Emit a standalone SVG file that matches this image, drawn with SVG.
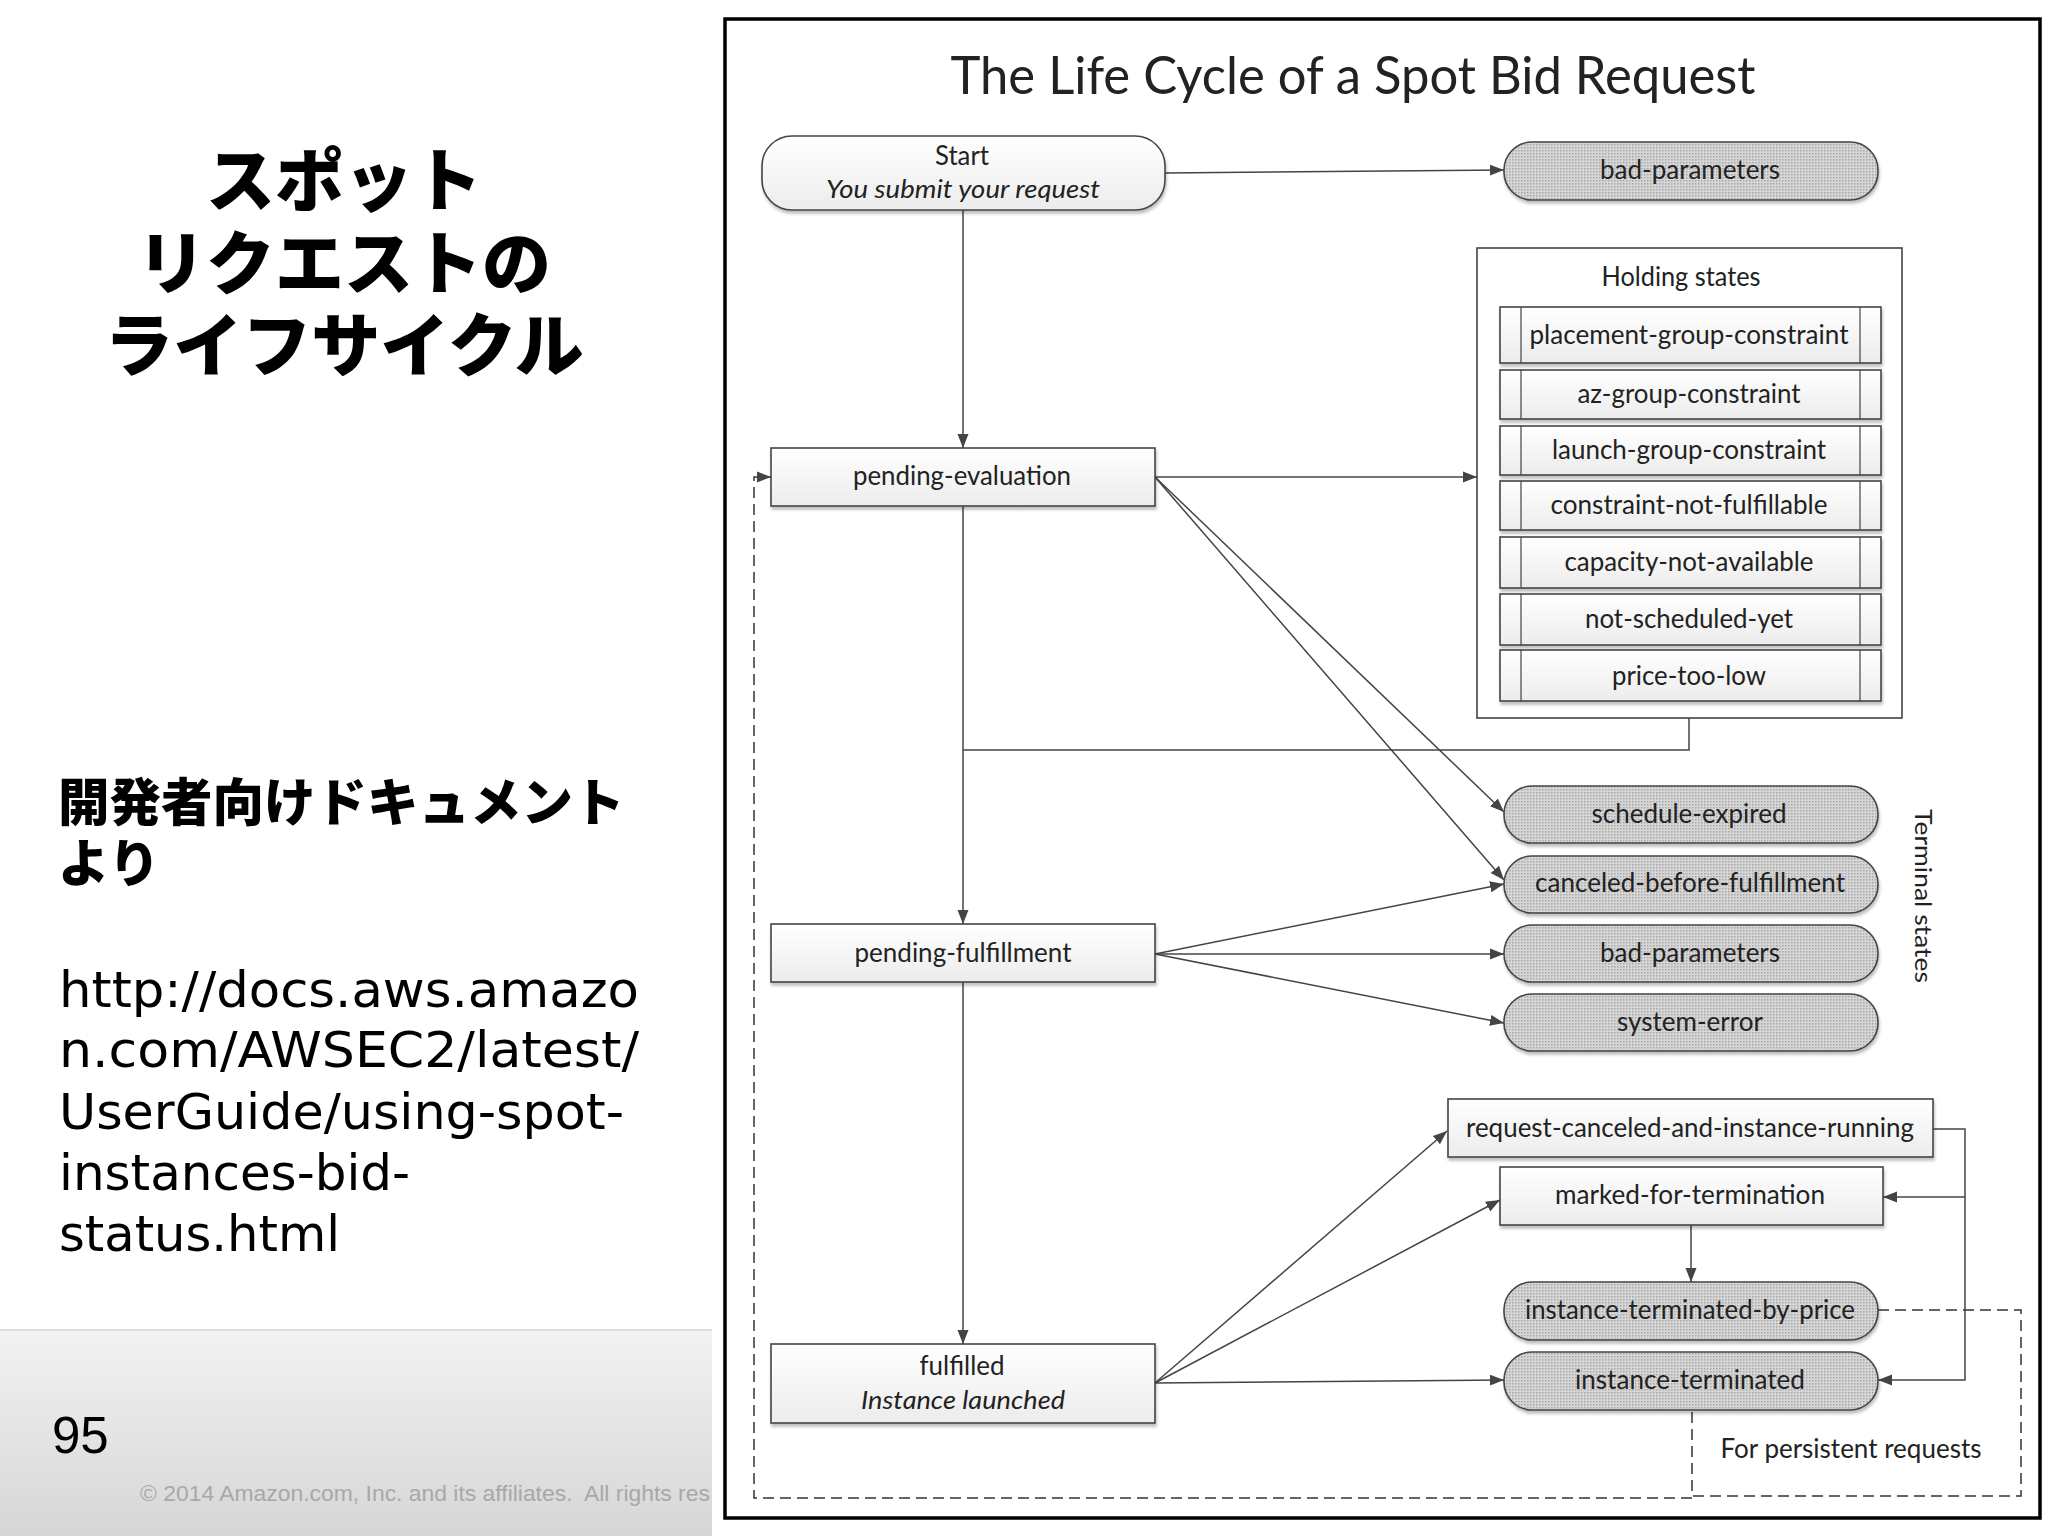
<svg xmlns="http://www.w3.org/2000/svg" width="2048" height="1536" viewBox="0 0 2048 1536">
<style>
.t{font-family:"Lato","Liberation Sans",sans-serif;font-size:26px;fill:#222;text-anchor:middle}
.i{font-style:italic}
.b{fill:url(#boxfill);stroke:#444;stroke-width:1.6;filter:url(#sh)}
.p{fill:url(#dots);stroke:#444;stroke-width:1.6;filter:url(#sh)}
.row{fill:url(#boxfill);stroke:#444;stroke-width:1.6;filter:url(#sh)}
.sl{stroke:#444;stroke-width:1.2;fill:none}
.c{stroke:#444;stroke-width:1.5;fill:none}
.a{marker-end:url(#ah)}
.d{stroke:#333;stroke-width:1.5;fill:none;stroke-dasharray:11 6}
.jp{font-family:"Noto Sans CJK JP",sans-serif;font-weight:900;fill:#000}
.url{font-family:"DejaVu Sans",sans-serif;font-size:50.5px;fill:#000}
</style>
<defs>
<linearGradient id="boxfill" x1="0" y1="0" x2="0" y2="1"><stop offset="0" stop-color="#fff"/><stop offset="1" stop-color="#ececec"/></linearGradient>
<linearGradient id="foot" x1="0" y1="0" x2="0" y2="1"><stop offset="0" stop-color="#f2f2f2"/><stop offset="1" stop-color="#d6d6d6"/></linearGradient>
<pattern id="dots" width="3" height="3" patternUnits="userSpaceOnUse"><rect width="3" height="3" fill="#d6d6d6"/><rect width="1.5" height="1.5" fill="#a8a8a8"/></pattern>
<filter id="sh" x="-5%" y="-10%" width="110%" height="125%"><feDropShadow dx="1" dy="3" stdDeviation="1.5" flood-color="#000" flood-opacity="0.25"/></filter>
<marker id="ah" markerUnits="userSpaceOnUse" markerWidth="15" markerHeight="13" refX="14" refY="6.5" orient="auto"><path d="M0 1 L14 6.5 L0 12 Z" fill="#444"/></marker>
<clipPath id="fc"><rect x="0" y="1329" width="712" height="207"/></clipPath>
</defs>
<rect width="2048" height="1536" fill="#fff"/>

<g id="slide-title">
<text class="jp" x="344" y="206" font-size="69" text-anchor="middle">スポット</text>
<text class="jp" x="344" y="289" font-size="69" text-anchor="middle">リクエストの</text>
<text class="jp" x="344" y="371" font-size="69" text-anchor="middle">ライフサイクル</text>
</g>
<g id="slide-body">
<text class="jp" x="58" y="821" font-size="51.5">開発者向けドキュメント</text>
<text class="jp" x="58" y="882" font-size="51.5">より</text>
<text class="url" x="59" y="1007" textLength="580" lengthAdjust="spacingAndGlyphs">http://docs.aws.amazo</text>
<text class="url" x="59" y="1067" textLength="580" lengthAdjust="spacingAndGlyphs">n.com/AWSEC2/latest/</text>
<text class="url" x="59" y="1129" textLength="565" lengthAdjust="spacingAndGlyphs">UserGuide/using-spot-</text>
<text class="url" x="59" y="1190" textLength="351" lengthAdjust="spacingAndGlyphs">instances-bid-</text>
<text class="url" x="59" y="1251" textLength="281" lengthAdjust="spacingAndGlyphs">status.html</text>
</g>
<g id="footer">
<rect x="0" y="1330" width="712" height="206" fill="url(#foot)"/>
<line x1="0" y1="1330" x2="712" y2="1330" stroke="#ddd" stroke-width="2"/>
<text x="52" y="1453" font-family="Liberation Sans, sans-serif" font-size="51" fill="#000">95</text>
<g clip-path="url(#fc)"><text x="140" y="1501" font-family="Liberation Sans, sans-serif" font-size="22.9" fill="#a8a8a8" xml:space="preserve">© 2014 Amazon.com, Inc. and its affiliates.  All rights res</text></g>
</g>

<rect id="frame" x="725" y="19" width="1315" height="1499" fill="#fff" stroke="#000" stroke-width="3.5"/>
<text id="title" class="t" x="1353" y="94" style="font-size:52px" textLength="805" lengthAdjust="spacingAndGlyphs">The Life Cycle of a Spot Bid Request</text>

<g id="connectors">
<path class="c a" d="M963 210V448"/>
<path class="c a" d="M1165 173L1504 170"/>
<path class="c a" d="M1155 477H1477"/>
<path class="c a" d="M963 506V924"/>
<path class="c" d="M1689 702V750H963"/>
<path class="c a" d="M1155 477L1504 812"/>
<path class="c a" d="M1155 477L1504 880"/>
<path class="c a" d="M1155 954L1504 884"/>
<path class="c a" d="M1155 954H1504"/>
<path class="c a" d="M1155 954L1504 1023"/>
<path class="c a" d="M963 982V1344"/>
<path class="c a" d="M1155 1383L1447 1131"/>
<path class="c a" d="M1155 1383L1500 1200"/>
<path class="c a" d="M1155 1383L1504 1380"/>
<path class="c a" d="M1933 1129H1965V1380H1878"/>
<path class="c a" d="M1965 1197H1883"/>
<path class="c a" d="M1691 1225V1282"/>
<path class="d" d="M1878 1310H2021V1496H1692V1410"/>
<path class="d a" d="M1692 1498H754V477H771"/>
</g>

<g id="start"><rect class="b" x="762" y="136" width="403" height="74" rx="30" ry="30"/><text class="t" x="962" y="165" textLength="54" lengthAdjust="spacingAndGlyphs">Start</text><text class="t i" x="963" y="198" textLength="274" lengthAdjust="spacingAndGlyphs">You submit your request</text></g>
<g id="bad-parameters-1"><rect class="p" x="1504" y="142" width="374" height="58" rx="28"/><text class="t" x="1690" y="179" textLength="180" lengthAdjust="spacingAndGlyphs">bad-parameters</text></g>

<g id="holding-states">
<rect x="1477" y="248" width="425" height="470" fill="#fff" stroke="#444" stroke-width="1.6"/>
<text class="t" x="1681" y="286" textLength="159" lengthAdjust="spacingAndGlyphs">Holding states</text>
</g>
<g id="placement-group-constraint"><rect class="row" x="1500" y="307" width="381" height="56"/><path class="sl" d="M1521 307V363M1860 307V363"/><text class="t" x="1689" y="344" textLength="319" lengthAdjust="spacingAndGlyphs">placement-group-constraint</text></g>
<g id="az-group-constraint"><rect class="row" x="1500" y="370" width="381" height="49"/><path class="sl" d="M1521 370V419M1860 370V419"/><text class="t" x="1689" y="403" textLength="223" lengthAdjust="spacingAndGlyphs">az-group-constraint</text></g>
<g id="launch-group-constraint"><rect class="row" x="1500" y="426" width="381" height="49"/><path class="sl" d="M1521 426V475M1860 426V475"/><text class="t" x="1689" y="459" textLength="274" lengthAdjust="spacingAndGlyphs">launch-group-constraint</text></g>
<g id="constraint-not-fulfillable"><rect class="row" x="1500" y="481" width="381" height="49"/><path class="sl" d="M1521 481V530M1860 481V530"/><text class="t" x="1689" y="514" textLength="277" lengthAdjust="spacingAndGlyphs">constraint-not-fulfillable</text></g>
<g id="capacity-not-available"><rect class="row" x="1500" y="537" width="381" height="51"/><path class="sl" d="M1521 537V588M1860 537V588"/><text class="t" x="1689" y="571" textLength="249" lengthAdjust="spacingAndGlyphs">capacity-not-available</text></g>
<g id="not-scheduled-yet"><rect class="row" x="1500" y="594" width="381" height="51"/><path class="sl" d="M1521 594V645M1860 594V645"/><text class="t" x="1689" y="628" textLength="208" lengthAdjust="spacingAndGlyphs">not-scheduled-yet</text></g>
<g id="price-too-low"><rect class="row" x="1500" y="650" width="381" height="51"/><path class="sl" d="M1521 650V701M1860 650V701"/><text class="t" x="1689" y="685" textLength="154" lengthAdjust="spacingAndGlyphs">price-too-low</text></g>

<g id="pending-evaluation"><rect class="b" x="771" y="448" width="384" height="58"/><text class="t" x="962" y="485" textLength="218" lengthAdjust="spacingAndGlyphs">pending-evaluation</text></g>
<g id="pending-fulfillment"><rect class="b" x="771" y="924" width="384" height="58"/><text class="t" x="963" y="962" textLength="217" lengthAdjust="spacingAndGlyphs">pending-fulfillment</text></g>
<g id="fulfilled"><rect class="b" x="771" y="1344" width="384" height="79"/><text class="t" x="962" y="1375" textLength="85" lengthAdjust="spacingAndGlyphs">fulfilled</text><text class="t i" x="963" y="1409" textLength="204" lengthAdjust="spacingAndGlyphs">Instance launched</text></g>

<g id="schedule-expired"><rect class="p" x="1504" y="786" width="374" height="57" rx="28"/><text class="t" x="1689" y="823" textLength="195" lengthAdjust="spacingAndGlyphs">schedule-expired</text></g>
<g id="canceled-before-fulfillment"><rect class="p" x="1504" y="856" width="374" height="57" rx="28"/><text class="t" x="1690" y="892" textLength="310" lengthAdjust="spacingAndGlyphs">canceled-before-fulfillment</text></g>
<g id="bad-parameters-2"><rect class="p" x="1504" y="925" width="374" height="57" rx="28"/><text class="t" x="1690" y="962" textLength="180" lengthAdjust="spacingAndGlyphs">bad-parameters</text></g>
<g id="system-error"><rect class="p" x="1504" y="994" width="374" height="57" rx="28"/><text class="t" x="1690" y="1031" textLength="146" lengthAdjust="spacingAndGlyphs">system-error</text></g>
<text id="terminal-states" class="t" transform="translate(1915 896) rotate(90)" style="font-size:24px" textLength="174" lengthAdjust="spacingAndGlyphs">Terminal states</text>

<g id="request-canceled-and-instance-running"><rect class="b" x="1448" y="1099" width="485" height="58"/><text class="t" x="1690" y="1137" textLength="448" lengthAdjust="spacingAndGlyphs">request-canceled-and-instance-running</text></g>
<g id="marked-for-termination"><rect class="b" x="1500" y="1167" width="383" height="58"/><text class="t" x="1690" y="1204" textLength="270" lengthAdjust="spacingAndGlyphs">marked-for-termination</text></g>
<g id="instance-terminated-by-price"><rect class="p" x="1504" y="1282" width="374" height="58" rx="28"/><text class="t" x="1690" y="1319" textLength="330" lengthAdjust="spacingAndGlyphs">instance-terminated-by-price</text></g>
<g id="instance-terminated"><rect class="p" x="1504" y="1352" width="374" height="58" rx="28"/><text class="t" x="1690" y="1389" textLength="230" lengthAdjust="spacingAndGlyphs">instance-terminated</text></g>
<text id="for-persistent" class="t" x="1851" y="1458" textLength="261" lengthAdjust="spacingAndGlyphs">For persistent requests</text>
</svg>
